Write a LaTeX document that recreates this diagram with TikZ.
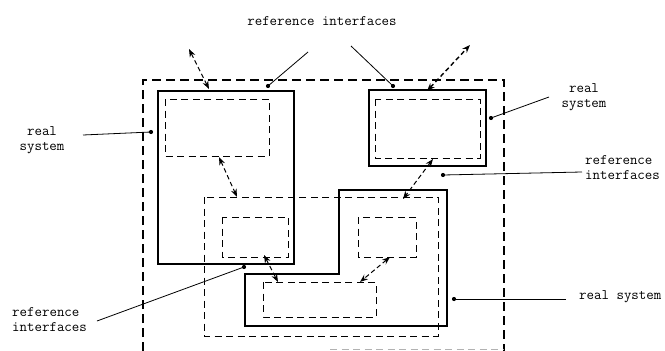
\documentclass[tikz,border=0pt]{standalone}
\usetikzlibrary{arrows.meta}
\begin{document}
\begin{tikzpicture}[x=1pt,y=-1pt,
  solidbox/.style={line width=1.4pt},
  dashbox/.style={line width=0.9pt, dash pattern=on 7pt off 4.5pt},
  outerbox/.style={line width=1.2pt, dash pattern=on 9pt off 5pt},
  darrow/.style={line width=1pt, dash pattern=on 4.5pt off 3pt, {Stealth[length=8pt,width=6pt]}-{Stealth[length=8pt,width=6pt]}},
  lead/.style={line width=0.8pt},
  dotc/.style={circle, fill, inner sep=0pt, minimum size=4.2pt},
  lbl/.style={font=\ttfamily\fontsize{14.5}{15}\selectfont, inner sep=0pt}]
\useasboundingbox (0,0) rectangle (665,351);
% outer dashed reference boundary
\draw[outerbox] (143,351) -- (143,80) -- (504,80) -- (504,351);
\draw[dashbox, black!30] (330,349) -- (504,349);
% real system 1
\draw[solidbox] (158,91) rectangle (294,264);
\draw[dashbox] (165,99) rectangle (269,156);
\draw[dashbox] (222,217) rectangle (288,257);
% real system 2
\draw[solidbox] (369,90) rectangle (486,166);
\draw[dashbox] (375,99) rectangle (480,158);
% middle reference boundary
\draw[dashbox] (204,197) rectangle (438,336);
% real system 3 (L shape)
\draw[solidbox] (339,190) -- (447,190) -- (447,326) -- (245,326) -- (245,274) -- (339,274) -- cycle;
\draw[dashbox] (358,217) rectangle (416,257);
\draw[dashbox] (263,282) rectangle (376,317);
% arrow end points
\coordinate (a1s) at (209,89);  \coordinate (a1e) at (189,49);
\coordinate (a2s) at (427,91);  \coordinate (a2e) at (470,45);
\coordinate (a3s) at (219,157); \coordinate (a3e) at (237,197);
\coordinate (a4s) at (433,159); \coordinate (a4e) at (403,199);
\coordinate (a5s) at (264,255); \coordinate (a5e) at (278,282);
\coordinate (a6s) at (390,257); \coordinate (a6e) at (360,282);
\draw[darrow] (a1s) -- (a1e);
\draw[darrow, line width=1.4pt] (a2s) -- (a2e);
\draw[darrow] (a3s) -- (a3e);
\draw[darrow] (a4s) -- (a4e);
\draw[darrow] (a5s) -- (a5e);
\draw[darrow] (a6s) -- (a6e);
% labels
\node[lbl] (t1) at (322,21) {reference interfaces};
\node[lbl, align=center] (t2) at (42,140) {real\\system};
\node[lbl, align=center] (t3) at (584,97) {real\\system};
\node[lbl, align=left, anchor=west] (t4) at (585,168) {reference\\interfaces};
\node[lbl, anchor=west] (t5) at (579,297) {real system};
\node[lbl, align=left, anchor=west] (t6) at (12,320) {reference\\interfaces};
% leader lines
\coordinate (l1a) at (308,52); \node[dotc] (d1a) at (268,86) {};
\coordinate (l1b) at (351,46); \node[dotc] (d1b) at (393,86) {};
\coordinate (l2) at (83,135);  \node[dotc] (d2) at (151,132) {};
\coordinate (l3) at (549,97);  \node[dotc] (d3) at (491,118) {};
\coordinate (l4) at (582,172); \node[dotc] (d4) at (443,175) {};
\coordinate (l5) at (566,299); \node[dotc] (d5) at (454,299) {};
\coordinate (l6) at (97,321);  \node[dotc] (d6) at (244,267) {};
\draw[lead] (l1a) -- (d1a.center);
\draw[lead] (l1b) -- (d1b.center);
\draw[lead] (l2) -- (d2.center);
\draw[lead] (l3) -- (d3.center);
\draw[lead] (l4) -- (d4.center);
\draw[lead] (l5) -- (d5.center);
\draw[lead] (l6) -- (d6.center);
\end{tikzpicture}
\end{document}
